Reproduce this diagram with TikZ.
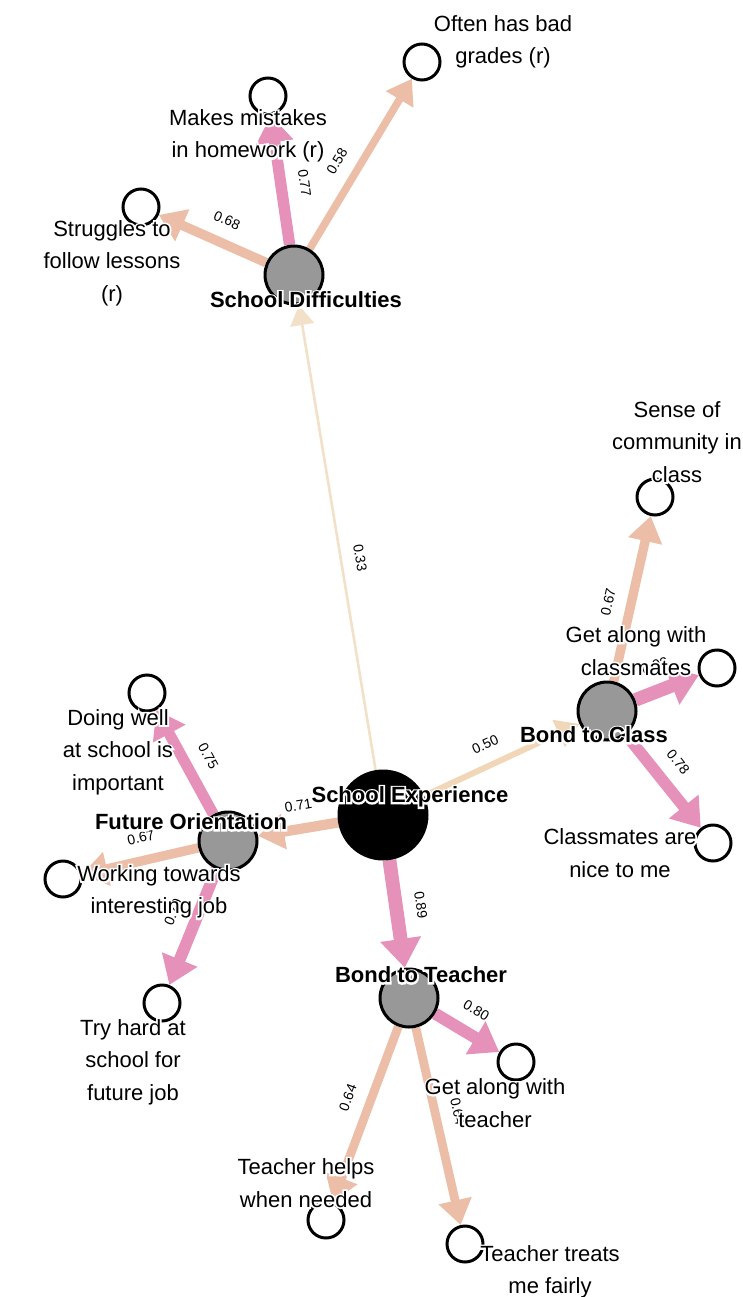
\documentclass[tikz,border=0pt]{standalone}
\usepackage{fontspec}
\setmainfont{Liberation Sans}
\newfontfamily\halofam[FakeBold=16, BoldFeatures={FakeBold=16}]{Liberation Sans}
\newcommand\hlt[1]{\leavevmode\rlap{\color{white}\halofam #1}#1}
\usetikzlibrary{arrows.meta}
\definecolor{pinkc}{RGB}{230,145,186}
\definecolor{salm}{RGB}{236,190,168}
\definecolor{whe}{RGB}{243,224,200}
\definecolor{peach}{RGB}{242,214,184}
\definecolor{latg}{RGB}{152,152,152}
\pgfdeclarelayer{bg}
\pgfsetlayers{bg,main}
\tikzset{
  latent/.style={circle, draw=black, line width=3pt, fill=latg, minimum size=58pt, inner sep=0pt},
  central/.style={latent, fill=black, minimum size=88pt},
  ind/.style={circle, draw=black, line width=3pt, fill=white, minimum size=36pt, inner sep=0pt},
  itxt/.style={font=\fontsize{22}{32.5}\selectfont, align=center, inner sep=0pt},
  ltxt/.style={font=\fontsize{22}{26}\selectfont\bfseries, inner sep=0pt},
  elab/.style={font=\fontsize{14}{16}\selectfont, sloped, pos=0.45, above=11pt, inner sep=2pt, text=black},
  load/.style={-{Triangle[length=18pt 0.8, width=20pt 1.4]}}
}
\begin{document}
\begin{tikzpicture}[x=1pt,y=-1pt]
\useasboundingbox (0,0) rectangle (743,1297);
% latent variables
\node[central] (SE) at (383,815) {};
\node[latent] (SD) at (294,275) {};
\node[latent] (BC) at (607,711) {};
\node[latent] (FO) at (228,841) {};
\node[latent] (BT) at (409,998) {};
% indicators
\node[ind] (mm) at (268,96) {};
\node[ind] (st) at (141,207) {};
\node[ind] (ob) at (422,62) {};
\node[ind] (sc) at (655,497) {};
\node[ind] (gc) at (717,668) {};
\node[ind] (cn) at (713,843) {};
\node[ind] (dw) at (147,693) {};
\node[ind] (wt) at (63,879) {};
\node[ind] (th) at (162,1003) {};
\node[ind] (gt) at (516,1062) {};
\node[ind] (tf) at (326,1220) {};
\node[ind] (tt) at (465,1244) {};
% edges
\begin{pgfonlayer}{bg}
\draw[load, line width=2.6pt, whe] (SE) -- (SD) node[elab]{0.33};
\draw[load, line width=6pt, peach] (SE) -- (BC) node[elab]{0.50};
\draw[load, line width=10.2pt, salm] (SE) -- (FO) node[elab]{0.71};
\draw[load, line width=13.8pt, pinkc] (SE) -- (BT) node[elab]{0.89};
\draw[load, line width=9.6pt, salm] (SD) -- (st) node[elab]{0.68};
\draw[load, line width=11.4pt, pinkc] (SD) -- (mm) node[elab]{0.77};
\draw[load, line width=7.6pt, salm] (SD) -- (ob) node[elab]{0.58};
\draw[load, line width=9.4pt, salm] (BC) -- (sc) node[elab]{0.67};
\draw[load, line width=13.6pt, pinkc] (BC) -- (gc) node[elab]{0.92};
\draw[load, line width=11.6pt, pinkc] (BC) -- (cn) node[elab]{0.78};
\draw[load, line width=11pt, pinkc] (FO) -- (dw) node[elab]{0.75};
\draw[load, line width=9.4pt, salm] (FO) -- (wt) node[elab]{0.67};
\draw[load, line width=11.8pt, pinkc] (FO) -- (th) node[elab]{0.79};
\draw[load, line width=12pt, pinkc] (BT) -- (gt) node[elab]{0.80};
\draw[load, line width=8.8pt, salm] (BT) -- (tf) node[elab]{0.64};
\draw[load, line width=8.8pt, salm] (BT) -- (tt) node[elab]{0.64};
\end{pgfonlayer}
% latent labels
\node[ltxt] (SEl) at (410,797) {\hlt{School Experience}};
\node[ltxt] (SDl) at (306,300) {\hlt{School Difficulties}};
\node[ltxt] (BCl) at (594,735) {\hlt{Bond to Class}};
\node[ltxt] (FOl) at (191,822) {\hlt{Future Orientation}};
\node[ltxt] (BTl) at (421,975) {\hlt{Bond to Teacher}};
% indicator labels
\node[itxt] (mmt) at (248,136) {\hlt{Makes mistakes}\\\hlt{in homework (r)}};
\node[itxt] (stt) at (112,263) {\hlt{Struggles to}\\\hlt{follow lessons}\\\hlt{(r)}};
\node[itxt] (obt) at (503,42) {\hlt{Often has bad}\\\hlt{grades (r)}};
\node[itxt] (sct) at (677,442) {\hlt{Sense of}\\\hlt{community in}\\\hlt{class}};
\node[itxt] (gct) at (636,651) {\hlt{Get along with}\\\hlt{classmates}};
\node[itxt] (cnt) at (620,853) {\hlt{Classmates are}\\\hlt{nice to me}};
\node[itxt] (dwt) at (118,752) {\hlt{Doing well}\\\hlt{at school is}\\\hlt{important}};
\node[itxt] (wtt) at (159,892) {\hlt{Working towards}\\\hlt{interesting job}};
\node[itxt] (tht) at (133,1062) {\hlt{Try hard at}\\\hlt{school for}\\\hlt{future job}};
\node[itxt] (gtt) at (495,1103) {\hlt{Get along with}\\\hlt{teacher}};
\node[itxt] (tft) at (306,1183) {\hlt{Teacher helps}\\\hlt{when needed}};
\node[itxt] (ttt) at (550,1272) {\hlt{Teacher treats}\\\hlt{me fairly}};
\end{tikzpicture}
\end{document}
